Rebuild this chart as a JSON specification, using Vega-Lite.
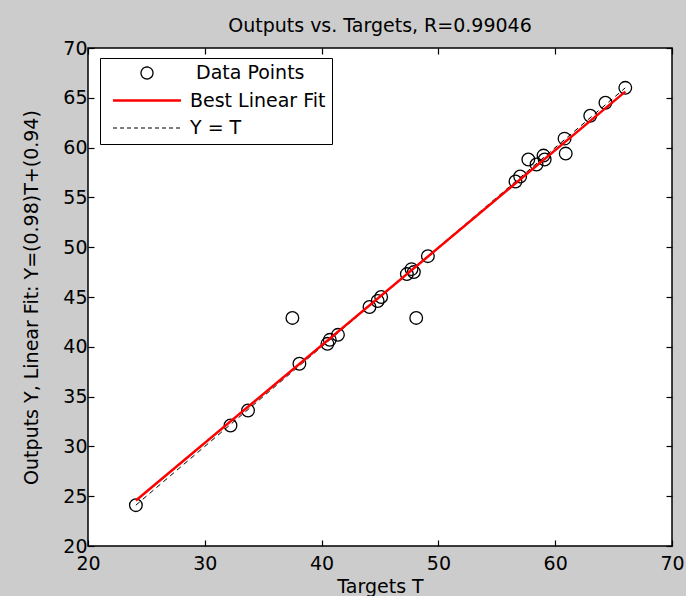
{
  "$schema": "https://vega.github.io/schema/vega-lite/v6.json",
  "width": 584,
  "height": 498,
  "autosize": {"type": "none"},
  "padding": {"left": 88, "top": 48, "right": 14, "bottom": 50},
  "background": "#cccccc",
  "view": {"fill": "white", "stroke": "black", "strokeWidth": 1.5},
  "config": {
    "font": "DejaVu Sans",
    "axis": {
      "labelFont": "DejaVu Sans", "titleFont": "DejaVu Sans",
      "labelFontSize": 19, "titleFontSize": 19, "titleFontWeight": "normal",
      "labelColor": "black", "titleColor": "black", "tickColor": "black",
      "grid": false, "domain": false, "tickSize": -6, "tickWidth": 1.2,
      "labelFlush": false, "labelOverlap": false
    },
    "title": {"font": "DejaVu Sans", "fontSize": 19, "fontWeight": "normal", "color": "black"}
  },
  "title": {"text": "Outputs vs. Targets, R=0.99046", "anchor": "middle", "offset": 3},
  "data": {
    "values": [
      {"series": "Data Points", "T": 24.1, "Y": 24.1},
      {"series": "Data Points", "T": 32.2, "Y": 32.1},
      {"series": "Data Points", "T": 33.7, "Y": 33.6},
      {"series": "Data Points", "T": 37.5, "Y": 42.9},
      {"series": "Data Points", "T": 38.1, "Y": 38.3},
      {"series": "Data Points", "T": 40.5, "Y": 40.3},
      {"series": "Data Points", "T": 40.7, "Y": 40.7},
      {"series": "Data Points", "T": 41.4, "Y": 41.2},
      {"series": "Data Points", "T": 44.1, "Y": 44.0},
      {"series": "Data Points", "T": 44.8, "Y": 44.6},
      {"series": "Data Points", "T": 45.1, "Y": 45.0},
      {"series": "Data Points", "T": 47.3, "Y": 47.3},
      {"series": "Data Points", "T": 47.7, "Y": 47.8},
      {"series": "Data Points", "T": 47.9, "Y": 47.5},
      {"series": "Data Points", "T": 48.1, "Y": 42.9},
      {"series": "Data Points", "T": 49.1, "Y": 49.1},
      {"series": "Data Points", "T": 56.6, "Y": 56.6},
      {"series": "Data Points", "T": 57.0, "Y": 57.1},
      {"series": "Data Points", "T": 57.7, "Y": 58.8},
      {"series": "Data Points", "T": 58.4, "Y": 58.3},
      {"series": "Data Points", "T": 59.0, "Y": 59.2},
      {"series": "Data Points", "T": 59.1, "Y": 58.8},
      {"series": "Data Points", "T": 60.8, "Y": 60.9},
      {"series": "Data Points", "T": 60.9, "Y": 59.4},
      {"series": "Data Points", "T": 63.0, "Y": 63.2},
      {"series": "Data Points", "T": 64.3, "Y": 64.5},
      {"series": "Data Points", "T": 66.0, "Y": 66.0},
      {"series": "Best Linear Fit", "T": 24.1, "Y": 24.56},
      {"series": "Best Linear Fit", "T": 66.0, "Y": 65.62},
      {"series": "Y = T", "T": 24.1, "Y": 24.1},
      {"series": "Y = T", "T": 66.0, "Y": 66.0}
    ]
  },
  "resolve": {"axis": {"x": "independent", "y": "independent"}},
  "layer": [
    {
      "transform": [{"filter": "datum.series === 'Data Points'"}],
      "mark": {"type": "point", "filled": false, "shape": "circle", "size": 160, "strokeWidth": 1.3, "opacity": 1},
      "encoding": {
        "x": {"field": "T", "type": "quantitative", "scale": {"domain": [20, 70], "nice": false, "zero": false},
              "axis": {"orient": "bottom", "values": [20, 30, 40, 50, 60, 70], "title": "Targets T", "labelPadding": 14, "titlePadding": 4}},
        "y": {"field": "Y", "type": "quantitative", "scale": {"domain": [20, 70], "nice": false, "zero": false},
              "axis": {"orient": "left", "values": [20, 25, 30, 35, 40, 45, 50, 55, 60, 65, 70], "title": "Outputs Y,  Linear Fit: Y=(0.98)T+(0.94)", "labelPadding": 7, "titlePadding": 21}},
        "color": {
          "field": "series", "type": "nominal",
          "scale": {"domain": ["Data Points", "Best Linear Fit", "Y = T"], "range": ["black", "red", "black"]},
          "legend": {
            "orient": "none", "legendX": 12, "legendY": 10, "title": null,
            "strokeColor": "black", "fillColor": "white", "padding": 6,
            "labelFont": "DejaVu Sans", "labelFontSize": 19, "labelColor": "black",
            "rowPadding": 8.5, "clipHeight": 18,
            "encoding": {
              "symbols": {
                "x": {"value": 41},
                "shape": {"value": {"expr": "datum.value === 'Data Points' ? 'circle' : 'stroke'"}},
                "size": {"value": {"expr": "datum.value === 'Data Points' ? 144 : 4624"}},
                "strokeWidth": {"value": {"expr": "datum.value === 'Best Linear Fit' ? 2.5 : (datum.value === 'Y = T' ? 1 : 1.3)"}},
                "strokeDash": {"value": {"expr": "datum.value === 'Y = T' ? [4, 3] : [1, 0]"}},
                "fill": {"value": "transparent"},
                "opacity": {"value": 1}
              },
              "labels": {
                "x": {"value": {"expr": "datum.value === 'Data Points' ? 90 : 84"}}
              }
            }
          }
        }
      }
    },
    {
      "transform": [{"filter": "datum.series === 'Y = T'"}],
      "mark": {"type": "line", "strokeWidth": 1, "strokeDash": [5, 4]},
      "encoding": {
        "x": {"field": "T", "type": "quantitative",
              "axis": {"orient": "top", "values": [20, 30, 40, 50, 60, 70], "title": null, "labels": false}},
        "y": {"field": "Y", "type": "quantitative",
              "axis": {"orient": "right", "values": [20, 25, 30, 35, 40, 45, 50, 55, 60, 65, 70], "title": null, "labels": false}},
        "color": {"field": "series", "type": "nominal"}
      }
    },
    {
      "transform": [{"filter": "datum.series === 'Best Linear Fit'"}],
      "mark": {"type": "line", "strokeWidth": 2.5},
      "encoding": {
        "x": {"field": "T", "type": "quantitative", "axis": null},
        "y": {"field": "Y", "type": "quantitative", "axis": null},
        "color": {"field": "series", "type": "nominal"}
      }
    }
  ]
}
